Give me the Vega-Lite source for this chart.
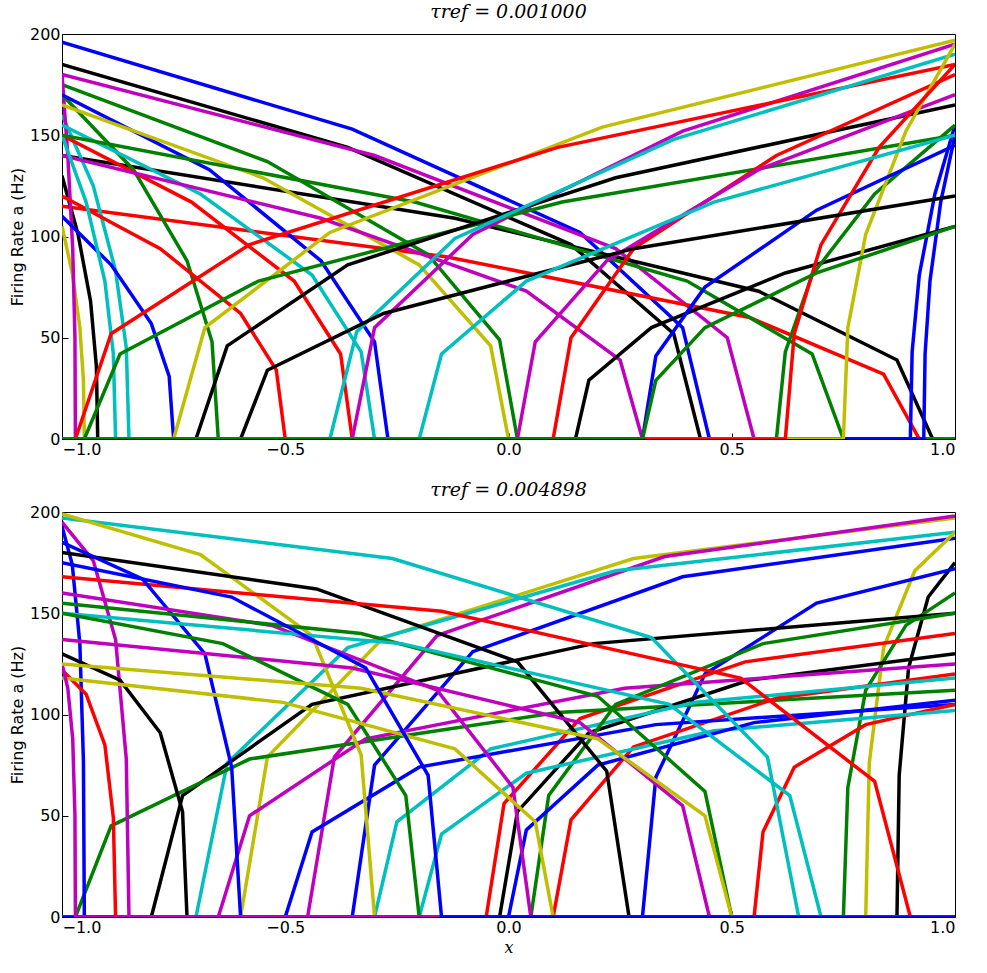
{
  "$schema": "https://vega.github.io/schema/vega-lite/v6.json",
  "padding": {"left": 8, "top": 2, "right": 10, "bottom": 2},
  "config": {
    "font": "DejaVu Sans",
    "view": {"stroke": "black", "strokeWidth": 1},
    "axis": {"grid": false, "domain": false, "tickColor": "black", "tickSize": -6, "labelFontSize": 16, "labelColor": "black", "titleFontSize": 16, "titleFontWeight": "normal", "labelPadding": 8},
    "title": {"font": "DejaVu Serif", "fontStyle": "italic", "fontSize": 19, "fontWeight": "normal", "offset": 4},
    "concat": {"spacing": 22}
  },
  "datasets": {
    "top": [
      {"c":"T1","k":"b","x":1,"y":0},{"c":"T1","k":"b","x":0.45,"y":0},{"c":"T1","k":"b","x":0.39,"y":55},{"c":"T1","k":"b","x":0.16,"y":102},{"c":"T1","k":"b","x":-0.35,"y":153},{"c":"T1","k":"b","x":-1,"y":196},
      {"c":"T2","k":"k","x":1,"y":0},{"c":"T2","k":"k","x":0.43,"y":0},{"c":"T2","k":"k","x":0.37,"y":52},{"c":"T2","k":"k","x":0.14,"y":96},{"c":"T2","k":"k","x":-0.36,"y":144},{"c":"T2","k":"k","x":-1,"y":185},
      {"c":"T3","k":"m","x":1,"y":0},{"c":"T3","k":"m","x":0.55,"y":0},{"c":"T3","k":"m","x":0.49,"y":50},{"c":"T3","k":"m","x":0.24,"y":94},{"c":"T3","k":"m","x":-0.3,"y":140},{"c":"T3","k":"m","x":-1,"y":180},
      {"c":"T4","k":"k","x":1,"y":0},{"c":"T4","k":"k","x":0.95,"y":0},{"c":"T4","k":"k","x":0.87,"y":39},{"c":"T4","k":"k","x":0.56,"y":73},{"c":"T4","k":"k","x":-0.12,"y":109},{"c":"T4","k":"k","x":-1,"y":140},
      {"c":"T5","k":"r","x":1,"y":0},{"c":"T5","k":"r","x":0.92,"y":0},{"c":"T5","k":"r","x":0.84,"y":32},{"c":"T5","k":"r","x":0.54,"y":60},{"c":"T5","k":"r","x":-0.14,"y":90},{"c":"T5","k":"r","x":-1,"y":115},
      {"c":"T6","k":"g","x":1,"y":0},{"c":"T6","k":"g","x":0.02,"y":0},{"c":"T6","k":"g","x":-0.02,"y":49},{"c":"T6","k":"g","x":-0.18,"y":91},{"c":"T6","k":"g","x":-0.54,"y":137},{"c":"T6","k":"g","x":-1,"y":175},
      {"c":"T7","k":"c","x":1,"y":0},{"c":"T7","k":"c","x":-0.85,"y":0},{"c":"T7","k":"c","x":-0.856,"y":45},{"c":"T7","k":"c","x":-0.88,"y":83},{"c":"T7","k":"c","x":-0.93,"y":125},{"c":"T7","k":"c","x":-1,"y":160},
      {"c":"T8","k":"k","x":1,"y":0},{"c":"T8","k":"k","x":-0.92,"y":0},{"c":"T8","k":"k","x":-0.923,"y":36},{"c":"T8","k":"k","x":-0.936,"y":68},{"c":"T8","k":"k","x":-0.964,"y":101},{"c":"T8","k":"k","x":-1,"y":130},
      {"c":"T9","k":"y","x":1,"y":0},{"c":"T9","k":"y","x":-0.95,"y":0},{"c":"T9","k":"y","x":-0.952,"y":29},{"c":"T9","k":"y","x":-0.96,"y":55},{"c":"T9","k":"y","x":-0.977,"y":82},{"c":"T9","k":"y","x":-1,"y":105},
      {"c":"T10","k":"m","x":1,"y":0},{"c":"T10","k":"m","x":-0.97,"y":0},{"c":"T10","k":"m","x":-0.971,"y":50},{"c":"T10","k":"m","x":-0.976,"y":94},{"c":"T10","k":"m","x":-0.987,"y":140},{"c":"T10","k":"m","x":-1,"y":180},
      {"c":"T11","k":"g","x":1,"y":0},{"c":"T11","k":"g","x":-0.65,"y":0},{"c":"T11","k":"g","x":-0.664,"y":48},{"c":"T11","k":"g","x":-0.72,"y":88},{"c":"T11","k":"g","x":-0.84,"y":133},{"c":"T11","k":"g","x":-1,"y":170},
      {"c":"T12","k":"r","x":1,"y":0},{"c":"T12","k":"r","x":-0.35,"y":0},{"c":"T12","k":"r","x":-0.376,"y":42},{"c":"T12","k":"r","x":-0.48,"y":78},{"c":"T12","k":"r","x":-0.71,"y":117},{"c":"T12","k":"r","x":-1,"y":150},
      {"c":"T13","k":"b","x":1,"y":0},{"c":"T13","k":"b","x":-0.27,"y":0},{"c":"T13","k":"b","x":-0.3,"y":48},{"c":"T13","k":"b","x":-0.42,"y":88},{"c":"T13","k":"b","x":-0.67,"y":133},{"c":"T13","k":"b","x":-1,"y":170},
      {"c":"T14","k":"c","x":1,"y":0},{"c":"T14","k":"c","x":-0.3,"y":0},{"c":"T14","k":"c","x":-0.33,"y":43},{"c":"T14","k":"c","x":-0.44,"y":81},{"c":"T14","k":"c","x":-0.69,"y":121},{"c":"T14","k":"c","x":-1,"y":155},
      {"c":"T15","k":"y","x":1,"y":0},{"c":"T15","k":"y","x":0,"y":0},{"c":"T15","k":"y","x":-0.04,"y":46},{"c":"T15","k":"y","x":-0.2,"y":86},{"c":"T15","k":"y","x":-0.55,"y":129},{"c":"T15","k":"y","x":-1,"y":165},
      {"c":"T16","k":"m","x":1,"y":0},{"c":"T16","k":"m","x":0.3,"y":0},{"c":"T16","k":"m","x":0.25,"y":39},{"c":"T16","k":"m","x":0.04,"y":73},{"c":"T16","k":"m","x":-0.42,"y":109},{"c":"T16","k":"m","x":-1,"y":140},
      {"c":"T17","k":"r","x":1,"y":0},{"c":"T17","k":"r","x":-0.5,"y":0},{"c":"T17","k":"r","x":-0.52,"y":34},{"c":"T17","k":"r","x":-0.6,"y":62},{"c":"T17","k":"r","x":-0.78,"y":94},{"c":"T17","k":"r","x":-1,"y":120},
      {"c":"T18","k":"b","x":1,"y":0},{"c":"T18","k":"b","x":-0.75,"y":0},{"c":"T18","k":"b","x":-0.76,"y":31},{"c":"T18","k":"b","x":-0.8,"y":57},{"c":"T18","k":"b","x":-0.89,"y":86},{"c":"T18","k":"b","x":-1,"y":110},
      {"c":"T19","k":"c","x":1,"y":0},{"c":"T19","k":"c","x":-0.88,"y":0},{"c":"T19","k":"c","x":-0.885,"y":42},{"c":"T19","k":"c","x":-0.904,"y":78},{"c":"T19","k":"c","x":-0.946,"y":117},{"c":"T19","k":"c","x":-1,"y":150},
      {"c":"T20","k":"g","x":1,"y":0},{"c":"T20","k":"g","x":0.75,"y":0},{"c":"T20","k":"g","x":0.68,"y":42},{"c":"T20","k":"g","x":0.4,"y":78},{"c":"T20","k":"g","x":-0.21,"y":117},{"c":"T20","k":"g","x":-1,"y":150},
      {"c":"T21","k":"y","x":-1,"y":0},{"c":"T21","k":"y","x":-0.75,"y":0},{"c":"T21","k":"y","x":-0.68,"y":55},{"c":"T21","k":"y","x":-0.4,"y":102},{"c":"T21","k":"y","x":0.21,"y":154},{"c":"T21","k":"y","x":1,"y":197},
      {"c":"T22","k":"m","x":-1,"y":0},{"c":"T22","k":"m","x":-0.35,"y":0},{"c":"T22","k":"m","x":-0.3,"y":55},{"c":"T22","k":"m","x":-0.08,"y":101},{"c":"T22","k":"m","x":0.39,"y":152},{"c":"T22","k":"m","x":1,"y":195},
      {"c":"T23","k":"g","x":-1,"y":0},{"c":"T23","k":"g","x":-0.95,"y":0},{"c":"T23","k":"g","x":-0.87,"y":42},{"c":"T23","k":"g","x":-0.56,"y":78},{"c":"T23","k":"g","x":0.12,"y":117},{"c":"T23","k":"g","x":1,"y":150},
      {"c":"T24","k":"r","x":-1,"y":0},{"c":"T24","k":"r","x":-0.97,"y":0},{"c":"T24","k":"r","x":-0.89,"y":52},{"c":"T24","k":"r","x":-0.58,"y":96},{"c":"T24","k":"r","x":0.11,"y":144},{"c":"T24","k":"r","x":1,"y":185},
      {"c":"T25","k":"k","x":-1,"y":0},{"c":"T25","k":"k","x":-0.7,"y":0},{"c":"T25","k":"k","x":-0.63,"y":46},{"c":"T25","k":"k","x":-0.36,"y":86},{"c":"T25","k":"k","x":0.24,"y":129},{"c":"T25","k":"k","x":1,"y":165},
      {"c":"T26","k":"b","x":-1,"y":0},{"c":"T26","k":"b","x":0.93,"y":0},{"c":"T26","k":"b","x":0.933,"y":42},{"c":"T26","k":"b","x":0.944,"y":78},{"c":"T26","k":"b","x":0.968,"y":117},{"c":"T26","k":"b","x":1,"y":150},
      {"c":"T27","k":"b","x":-1,"y":0},{"c":"T27","k":"b","x":0.9,"y":0},{"c":"T27","k":"b","x":0.904,"y":43},{"c":"T27","k":"b","x":0.92,"y":81},{"c":"T27","k":"b","x":0.955,"y":121},{"c":"T27","k":"b","x":1,"y":155},
      {"c":"T28","k":"r","x":-1,"y":0},{"c":"T28","k":"r","x":0.1,"y":0},{"c":"T28","k":"r","x":0.14,"y":50},{"c":"T28","k":"r","x":0.28,"y":94},{"c":"T28","k":"r","x":0.6,"y":140},{"c":"T28","k":"r","x":1,"y":180},
      {"c":"T29","k":"k","x":-1,"y":0},{"c":"T29","k":"k","x":0.15,"y":0},{"c":"T29","k":"k","x":0.18,"y":29},{"c":"T29","k":"k","x":0.32,"y":55},{"c":"T29","k":"k","x":0.62,"y":82},{"c":"T29","k":"k","x":1,"y":105},
      {"c":"T30","k":"g","x":-1,"y":0},{"c":"T30","k":"g","x":0.6,"y":0},{"c":"T30","k":"g","x":0.62,"y":43},{"c":"T30","k":"g","x":0.68,"y":81},{"c":"T30","k":"g","x":0.82,"y":121},{"c":"T30","k":"g","x":1,"y":155},
      {"c":"T31","k":"c","x":-1,"y":0},{"c":"T31","k":"c","x":-0.4,"y":0},{"c":"T31","k":"c","x":-0.34,"y":53},{"c":"T31","k":"c","x":-0.12,"y":99},{"c":"T31","k":"c","x":0.37,"y":148},{"c":"T31","k":"c","x":1,"y":190},
      {"c":"T32","k":"m","x":-1,"y":0},{"c":"T32","k":"m","x":0.02,"y":0},{"c":"T32","k":"m","x":0.06,"y":48},{"c":"T32","k":"m","x":0.22,"y":88},{"c":"T32","k":"m","x":0.56,"y":133},{"c":"T32","k":"m","x":1,"y":170},
      {"c":"T33","k":"y","x":-1,"y":0},{"c":"T33","k":"y","x":0.75,"y":0},{"c":"T33","k":"y","x":0.76,"y":55},{"c":"T33","k":"y","x":0.8,"y":101},{"c":"T33","k":"y","x":0.89,"y":152},{"c":"T33","k":"y","x":1,"y":195},
      {"c":"T34","k":"b","x":-1,"y":0},{"c":"T34","k":"b","x":0.3,"y":0},{"c":"T34","k":"b","x":0.33,"y":41},{"c":"T34","k":"b","x":0.44,"y":75},{"c":"T34","k":"b","x":0.69,"y":113},{"c":"T34","k":"b","x":1,"y":145},
      {"c":"T35","k":"r","x":-1,"y":0},{"c":"T35","k":"r","x":0.62,"y":0},{"c":"T35","k":"r","x":0.64,"y":52},{"c":"T35","k":"r","x":0.7,"y":96},{"c":"T35","k":"r","x":0.83,"y":144},{"c":"T35","k":"r","x":1,"y":185},
      {"c":"T36","k":"k","x":-1,"y":0},{"c":"T36","k":"k","x":-0.6,"y":0},{"c":"T36","k":"k","x":-0.54,"y":34},{"c":"T36","k":"k","x":-0.28,"y":62},{"c":"T36","k":"k","x":0.28,"y":94},{"c":"T36","k":"k","x":1,"y":120},
      {"c":"T37","k":"c","x":-1,"y":0},{"c":"T37","k":"c","x":-0.2,"y":0},{"c":"T37","k":"c","x":-0.15,"y":42},{"c":"T37","k":"c","x":0.04,"y":78},{"c":"T37","k":"c","x":0.46,"y":117},{"c":"T37","k":"c","x":1,"y":150},
      {"c":"T38","k":"g","x":-1,"y":0},{"c":"T38","k":"g","x":0.3,"y":0},{"c":"T38","k":"g","x":0.33,"y":29},{"c":"T38","k":"g","x":0.44,"y":55},{"c":"T38","k":"g","x":0.69,"y":82},{"c":"T38","k":"g","x":1,"y":105}
    ],
    "bot": [
      {"c":"B1","k":"y","x":-1,"y":0},{"c":"B1","k":"y","x":-0.6,"y":0},{"c":"B1","k":"y","x":-0.54,"y":79},{"c":"B1","k":"y","x":-0.28,"y":138},{"c":"B1","k":"y","x":0.28,"y":177},{"c":"B1","k":"y","x":1,"y":197},
      {"c":"B2","k":"m","x":-1,"y":0},{"c":"B2","k":"m","x":-0.45,"y":0},{"c":"B2","k":"m","x":-0.39,"y":79},{"c":"B2","k":"m","x":-0.16,"y":139},{"c":"B2","k":"m","x":0.35,"y":178},{"c":"B2","k":"m","x":1,"y":198},
      {"c":"B3","k":"c","x":-1,"y":0},{"c":"B3","k":"c","x":-0.7,"y":0},{"c":"B3","k":"c","x":-0.63,"y":76},{"c":"B3","k":"c","x":-0.36,"y":133},{"c":"B3","k":"c","x":0.24,"y":171},{"c":"B3","k":"c","x":1,"y":190},
      {"c":"B4","k":"b","x":-1,"y":0},{"c":"B4","k":"b","x":-0.35,"y":0},{"c":"B4","k":"b","x":-0.3,"y":75},{"c":"B4","k":"b","x":-0.08,"y":131},{"c":"B4","k":"b","x":0.39,"y":168},{"c":"B4","k":"b","x":1,"y":187},
      {"c":"B5","k":"k","x":-1,"y":0},{"c":"B5","k":"k","x":0.87,"y":0},{"c":"B5","k":"k","x":0.875,"y":70},{"c":"B5","k":"k","x":0.896,"y":123},{"c":"B5","k":"k","x":0.94,"y":158},{"c":"B5","k":"k","x":1,"y":175},
      {"c":"B6","k":"y","x":-1,"y":0},{"c":"B6","k":"y","x":0.8,"y":0},{"c":"B6","k":"y","x":0.808,"y":76},{"c":"B6","k":"y","x":0.84,"y":133},{"c":"B6","k":"y","x":0.91,"y":171},{"c":"B6","k":"y","x":1,"y":190},
      {"c":"B7","k":"g","x":-1,"y":0},{"c":"B7","k":"g","x":0.75,"y":0},{"c":"B7","k":"g","x":0.76,"y":64},{"c":"B7","k":"g","x":0.8,"y":112},{"c":"B7","k":"g","x":0.89,"y":144},{"c":"B7","k":"g","x":1,"y":160},
      {"c":"B8","k":"b","x":-1,"y":0},{"c":"B8","k":"b","x":0.3,"y":0},{"c":"B8","k":"b","x":0.33,"y":69},{"c":"B8","k":"b","x":0.44,"y":120},{"c":"B8","k":"b","x":0.69,"y":155},{"c":"B8","k":"b","x":1,"y":172},
      {"c":"B9","k":"k","x":-1,"y":0},{"c":"B9","k":"k","x":-0.8,"y":0},{"c":"B9","k":"k","x":-0.73,"y":60},{"c":"B9","k":"k","x":-0.44,"y":105},{"c":"B9","k":"k","x":0.19,"y":135},{"c":"B9","k":"k","x":1,"y":150},
      {"c":"B10","k":"r","x":-1,"y":0},{"c":"B10","k":"r","x":-0.05,"y":0},{"c":"B10","k":"r","x":-0.01,"y":56},{"c":"B10","k":"r","x":0.16,"y":98},{"c":"B10","k":"r","x":0.53,"y":126},{"c":"B10","k":"r","x":1,"y":140},
      {"c":"B11","k":"g","x":-1,"y":0},{"c":"B11","k":"g","x":-0.97,"y":0},{"c":"B11","k":"g","x":-0.89,"y":45},{"c":"B11","k":"g","x":-0.58,"y":78},{"c":"B11","k":"g","x":0.11,"y":101},{"c":"B11","k":"g","x":1,"y":112},
      {"c":"B12","k":"k","x":-1,"y":0},{"c":"B12","k":"k","x":-0.02,"y":0},{"c":"B12","k":"k","x":0.02,"y":52},{"c":"B12","k":"k","x":0.18,"y":91},{"c":"B12","k":"k","x":0.54,"y":117},{"c":"B12","k":"k","x":1,"y":130},
      {"c":"B13","k":"r","x":-1,"y":0},{"c":"B13","k":"r","x":0.1,"y":0},{"c":"B13","k":"r","x":0.14,"y":48},{"c":"B13","k":"r","x":0.28,"y":84},{"c":"B13","k":"r","x":0.6,"y":108},{"c":"B13","k":"r","x":1,"y":120},
      {"c":"B14","k":"m","x":-1,"y":0},{"c":"B14","k":"m","x":-0.65,"y":0},{"c":"B14","k":"m","x":-0.58,"y":50},{"c":"B14","k":"m","x":-0.32,"y":88},{"c":"B14","k":"m","x":0.26,"y":113},{"c":"B14","k":"m","x":1,"y":125},
      {"c":"B15","k":"c","x":-1,"y":0},{"c":"B15","k":"c","x":-0.3,"y":0},{"c":"B15","k":"c","x":-0.25,"y":47},{"c":"B15","k":"c","x":-0.04,"y":83},{"c":"B15","k":"c","x":0.42,"y":106},{"c":"B15","k":"c","x":1,"y":118},
      {"c":"B16","k":"b","x":-1,"y":0},{"c":"B16","k":"b","x":-0.5,"y":0},{"c":"B16","k":"b","x":-0.44,"y":42},{"c":"B16","k":"b","x":-0.2,"y":74},{"c":"B16","k":"b","x":0.33,"y":95},{"c":"B16","k":"b","x":1,"y":105},
      {"c":"B17","k":"g","x":-1,"y":0},{"c":"B17","k":"g","x":0.05,"y":0},{"c":"B17","k":"g","x":0.09,"y":60},{"c":"B17","k":"g","x":0.24,"y":105},{"c":"B17","k":"g","x":0.57,"y":135},{"c":"B17","k":"g","x":1,"y":150},
      {"c":"B18","k":"r","x":-1,"y":0},{"c":"B18","k":"r","x":0.55,"y":0},{"c":"B18","k":"r","x":0.57,"y":42},{"c":"B18","k":"r","x":0.64,"y":74},{"c":"B18","k":"r","x":0.8,"y":95},{"c":"B18","k":"r","x":1,"y":105},
      {"c":"B19","k":"c","x":-1,"y":0},{"c":"B19","k":"c","x":-0.2,"y":0},{"c":"B19","k":"c","x":-0.15,"y":41},{"c":"B19","k":"c","x":0.04,"y":71},{"c":"B19","k":"c","x":0.46,"y":92},{"c":"B19","k":"c","x":1,"y":102},
      {"c":"B20","k":"b","x":-1,"y":0},{"c":"B20","k":"b","x":0,"y":0},{"c":"B20","k":"b","x":0.04,"y":43},{"c":"B20","k":"b","x":0.2,"y":75},{"c":"B20","k":"b","x":0.55,"y":96},{"c":"B20","k":"b","x":1,"y":107},
      {"c":"B21","k":"c","x":1,"y":0},{"c":"B21","k":"c","x":0.65,"y":0},{"c":"B21","k":"c","x":0.58,"y":79},{"c":"B21","k":"c","x":0.32,"y":138},{"c":"B21","k":"c","x":-0.26,"y":177},{"c":"B21","k":"c","x":-1,"y":197},
      {"c":"B22","k":"y","x":1,"y":0},{"c":"B22","k":"y","x":-0.3,"y":0},{"c":"B22","k":"y","x":-0.33,"y":80},{"c":"B22","k":"y","x":-0.44,"y":139},{"c":"B22","k":"y","x":-0.69,"y":179},{"c":"B22","k":"y","x":-1,"y":199},
      {"c":"B23","k":"m","x":1,"y":0},{"c":"B23","k":"m","x":-0.85,"y":0},{"c":"B23","k":"m","x":-0.856,"y":78},{"c":"B23","k":"m","x":-0.88,"y":137},{"c":"B23","k":"m","x":-0.93,"y":176},{"c":"B23","k":"m","x":-1,"y":195},
      {"c":"B24","k":"b","x":1,"y":0},{"c":"B24","k":"b","x":-0.95,"y":0},{"c":"B24","k":"b","x":-0.952,"y":77},{"c":"B24","k":"b","x":-0.96,"y":135},{"c":"B24","k":"b","x":-0.977,"y":174},{"c":"B24","k":"b","x":-1,"y":193},
      {"c":"B25","k":"k","x":1,"y":0},{"c":"B25","k":"k","x":0.27,"y":0},{"c":"B25","k":"k","x":0.22,"y":72},{"c":"B25","k":"k","x":0.02,"y":126},{"c":"B25","k":"k","x":-0.43,"y":162},{"c":"B25","k":"k","x":-1,"y":180},
      {"c":"B26","k":"r","x":1,"y":0},{"c":"B26","k":"r","x":0.9,"y":0},{"c":"B26","k":"r","x":0.82,"y":67},{"c":"B26","k":"r","x":0.52,"y":118},{"c":"B26","k":"r","x":-0.15,"y":151},{"c":"B26","k":"r","x":-1,"y":168},
      {"c":"B27","k":"b","x":1,"y":0},{"c":"B27","k":"b","x":-0.6,"y":0},{"c":"B27","k":"b","x":-0.62,"y":74},{"c":"B27","k":"b","x":-0.68,"y":130},{"c":"B27","k":"b","x":-0.82,"y":167},{"c":"B27","k":"b","x":-1,"y":185},
      {"c":"B28","k":"m","x":1,"y":0},{"c":"B28","k":"m","x":0.05,"y":0},{"c":"B28","k":"m","x":0.01,"y":64},{"c":"B28","k":"m","x":-0.16,"y":112},{"c":"B28","k":"m","x":-0.53,"y":144},{"c":"B28","k":"m","x":-1,"y":160},
      {"c":"B29","k":"g","x":1,"y":0},{"c":"B29","k":"g","x":0.5,"y":0},{"c":"B29","k":"g","x":0.44,"y":62},{"c":"B29","k":"g","x":0.2,"y":109},{"c":"B29","k":"g","x":-0.33,"y":140},{"c":"B29","k":"g","x":-1,"y":155},
      {"c":"B30","k":"c","x":1,"y":0},{"c":"B30","k":"c","x":0.7,"y":0},{"c":"B30","k":"c","x":0.63,"y":60},{"c":"B30","k":"c","x":0.36,"y":105},{"c":"B30","k":"c","x":-0.24,"y":135},{"c":"B30","k":"c","x":-1,"y":150},
      {"c":"B31","k":"k","x":1,"y":0},{"c":"B31","k":"k","x":-0.72,"y":0},{"c":"B31","k":"k","x":-0.73,"y":52},{"c":"B31","k":"k","x":-0.78,"y":91},{"c":"B31","k":"k","x":-0.87,"y":117},{"c":"B31","k":"k","x":-1,"y":130},
      {"c":"B32","k":"m","x":1,"y":0},{"c":"B32","k":"m","x":0.45,"y":0},{"c":"B32","k":"m","x":0.39,"y":55},{"c":"B32","k":"m","x":0.16,"y":96},{"c":"B32","k":"m","x":-0.35,"y":123},{"c":"B32","k":"m","x":-1,"y":137},
      {"c":"B33","k":"r","x":1,"y":0},{"c":"B33","k":"r","x":-0.88,"y":0},{"c":"B33","k":"r","x":-0.885,"y":49},{"c":"B33","k":"r","x":-0.904,"y":85},{"c":"B33","k":"r","x":-0.946,"y":110},{"c":"B33","k":"r","x":-1,"y":122},
      {"c":"B34","k":"g","x":1,"y":0},{"c":"B34","k":"g","x":-0.2,"y":0},{"c":"B34","k":"g","x":-0.23,"y":60},{"c":"B34","k":"g","x":-0.36,"y":105},{"c":"B34","k":"g","x":-0.64,"y":135},{"c":"B34","k":"g","x":-1,"y":150},
      {"c":"B35","k":"y","x":1,"y":0},{"c":"B35","k":"y","x":0.1,"y":0},{"c":"B35","k":"y","x":0.06,"y":47},{"c":"B35","k":"y","x":-0.12,"y":83},{"c":"B35","k":"y","x":-0.505,"y":106},{"c":"B35","k":"y","x":-1,"y":118},
      {"c":"B36","k":"m","x":1,"y":0},{"c":"B36","k":"m","x":-0.97,"y":0},{"c":"B36","k":"m","x":-0.971,"y":50},{"c":"B36","k":"m","x":-0.976,"y":88},{"c":"B36","k":"m","x":-0.987,"y":113},{"c":"B36","k":"m","x":-1,"y":125},
      {"c":"B37","k":"y","x":1,"y":0},{"c":"B37","k":"y","x":0.5,"y":0},{"c":"B37","k":"y","x":0.44,"y":50},{"c":"B37","k":"y","x":0.2,"y":88},{"c":"B37","k":"y","x":-0.33,"y":113},{"c":"B37","k":"y","x":-1,"y":125},
      {"c":"B38","k":"b","x":1,"y":0},{"c":"B38","k":"b","x":-0.15,"y":0},{"c":"B38","k":"b","x":-0.18,"y":70},{"c":"B38","k":"b","x":-0.32,"y":123},{"c":"B38","k":"b","x":-0.62,"y":158},{"c":"B38","k":"b","x":-1,"y":175}
    ]
  },
  "vconcat": [
    {
      "width": 893,
      "height": 405,
      "title": "τref = 0.001000",
      "data": {"name": "top"},
      "mark": {"type": "line", "strokeWidth": 3.5, "clip": true},
      "encoding": {
        "x": {"field": "x", "type": "quantitative", "scale": {"domain": [-1, 1], "nice": false}, "axis": {"values": [-1, -0.5, 0, 0.5, 1], "format": ".1f", "title": null}},
        "y": {"field": "y", "type": "quantitative", "scale": {"domain": [0, 200], "nice": false}, "axis": {"values": [0, 50, 100, 150, 200], "title": "Firing Rate a (Hz)"}},
        "detail": {"field": "c"},
        "order": {"field": "x"},
        "color": {"field": "k", "type": "nominal", "legend": null, "scale": {"domain": ["b", "g", "r", "c", "m", "y", "k"], "range": ["#0000ff", "#008000", "#ff0000", "#00bfbf", "#bf00bf", "#bfbf00", "#000000"]}}
      }
    },
    {
      "width": 893,
      "height": 405,
      "title": "τref = 0.004898",
      "data": {"name": "bot"},
      "mark": {"type": "line", "strokeWidth": 3.5, "clip": true},
      "encoding": {
        "x": {"field": "x", "type": "quantitative", "scale": {"domain": [-1, 1], "nice": false}, "axis": {"values": [-1, -0.5, 0, 0.5, 1], "format": ".1f", "title": "x", "titleFont": "DejaVu Serif", "titleFontStyle": "italic"}},
        "y": {"field": "y", "type": "quantitative", "scale": {"domain": [0, 200], "nice": false}, "axis": {"values": [0, 50, 100, 150, 200], "title": "Firing Rate a (Hz)"}},
        "detail": {"field": "c"},
        "order": {"field": "x"},
        "color": {"field": "k", "type": "nominal", "legend": null, "scale": {"domain": ["b", "g", "r", "c", "m", "y", "k"], "range": ["#0000ff", "#008000", "#ff0000", "#00bfbf", "#bf00bf", "#bfbf00", "#000000"]}}
      }
    }
  ]
}
